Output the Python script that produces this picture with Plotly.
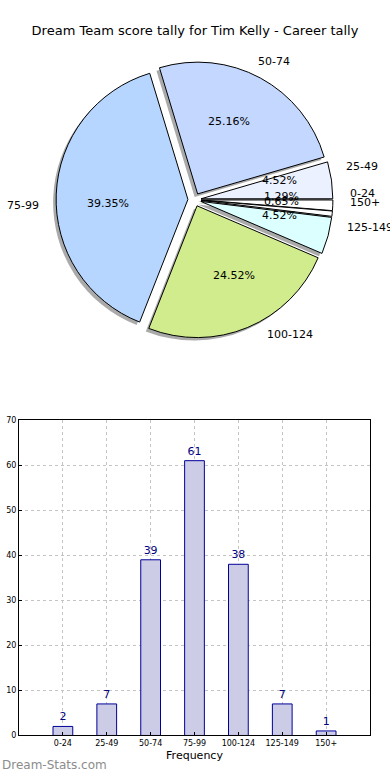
import math
import plotly.graph_objects as go

categories = ["0-24", "25-49", "50-74", "75-99", "100-124", "125-149", "150+"]
counts = [2, 7, 39, 61, 38, 7, 1]
pie_colors = ["#ffffff", "#ebf1ff", "#c4d8ff", "#b6d6ff", "#d0ec8c", "#dcffff", "#ffffff"]
y_ticks = [0, 10, 20, 30, 40, 50, 60, 70]

W, H = 390, 780
FONT = "DejaVu Sans"
PULL = 0.05

# pie box in pixels
pcx, pcy, half = 194.5, 198.0, 140.0
dom_x = [(pcx - half) / W, (pcx + half) / W]
dom_y = [1 - (pcy + half) / H, 1 - (pcy - half) / H]
r = half / (1 + PULL)

fig = go.Figure()

# shadow pie
sh = 3
fig.add_trace(go.Pie(
    labels=categories, values=counts, sort=False, direction="counterclockwise",
    rotation=90, pull=[PULL] * len(counts), textinfo="none", hoverinfo="skip",
    marker=dict(colors=["rgba(100,100,100,0.55)"] * len(counts), line=dict(width=0)),
    domain=dict(x=[dom_x[0] - sh / W, dom_x[1] - sh / W], y=[dom_y[0] - sh / H, dom_y[1] - sh / H]),
    showlegend=False,
))
fig.add_trace(go.Pie(
    labels=categories, values=counts, sort=False, direction="counterclockwise",
    rotation=90, pull=[PULL] * len(counts), textinfo="none",
    marker=dict(colors=pie_colors, line=dict(color="black", width=1)),
    domain=dict(x=dom_x, y=dom_y), showlegend=False,
))

annotations = []
total = sum(counts)
start = 0.0
for cat, v in zip(categories, counts):
    frac = v / total
    mid = (start + frac / 2) * 2 * math.pi
    start += frac
    c, s = math.cos(mid), math.sin(mid)
    lx = pcx + r * (1.1 + PULL) * c
    ly = pcy - r * (1.1 + PULL) * s
    annotations.append(dict(
        x=lx / W, y=1 - ly / H, xref="paper", yref="paper", text=cat, showarrow=False,
        xanchor="left" if c > 0 else "right", yanchor="middle",
        font=dict(family=FONT, size=11, color="black"),
    ))
    px_ = pcx + r * (0.6 + PULL) * c
    py_ = pcy - r * (0.6 + PULL) * s
    annotations.append(dict(
        x=px_ / W, y=1 - py_ / H, xref="paper", yref="paper", text=f"{frac * 100:.2f}%",
        showarrow=False, xanchor="center", yanchor="middle",
        font=dict(family=FONT, size=11, color="black"),
    ))

annotations.append(dict(
    x=0.0, y=1 - 770 / H, xref="paper", yref="paper", text="Dream-Stats.com",
    showarrow=False, xanchor="left", yanchor="middle",
    font=dict(family=FONT, size=12, color="#8c8c8c"),
))

fig.add_trace(go.Bar(
    x=categories, y=counts, width=0.45, text=[str(v) for v in counts],
    textposition="outside", cliponaxis=False,
    textfont=dict(family=FONT, size=11, color="#000080"),
    marker=dict(color="#ccccE6", line=dict(color="#000099", width=1)),
    showlegend=False, xaxis="x", yaxis="y",
))

fig.update_layout(
    width=W, height=H, paper_bgcolor="white", plot_bgcolor="white",
    margin=dict(l=0, r=0, t=0, b=0),
    title=dict(text="Dream Team score tally for Tim Kelly - Career tally",
               x=0.5, xanchor="center", y=1 - 30 / H, yanchor="middle",
               font=dict(family=FONT, size=13, color="black")),
    annotations=annotations,
    xaxis=dict(domain=[19 / W, 370 / W], type="category", range=[-1, 7],
               showgrid=True, gridcolor="#c4c4c4", griddash="dot", gridwidth=1,
               showline=True, linecolor="black", linewidth=1, mirror=True,
               ticks="inside", ticklen=3, tickcolor="black",
               tickfont=dict(family=FONT, size=8, color="black"),
               title=dict(text="Frequency", font=dict(family=FONT, size=11, color="black"), standoff=4),
               fixedrange=True, anchor="y"),
    yaxis=dict(domain=[1 - 740 / H, 1 - 421 / H], range=[0, 70], tickvals=y_ticks,
               showgrid=True, gridcolor="#c4c4c4", griddash="dot", gridwidth=1,
               zeroline=False,
               showline=True, linecolor="black", linewidth=1, mirror=True,
               ticks="inside", ticklen=3, tickcolor="black",
               tickfont=dict(family=FONT, size=8, color="black"),
               fixedrange=True, anchor="x"),
    bargap=0.5,
)

fig.write_html(
    "out.html",
    config={"displayModeBar": False},
    post_script="document.documentElement.style.margin='0';document.body.style.margin='0';",
)
